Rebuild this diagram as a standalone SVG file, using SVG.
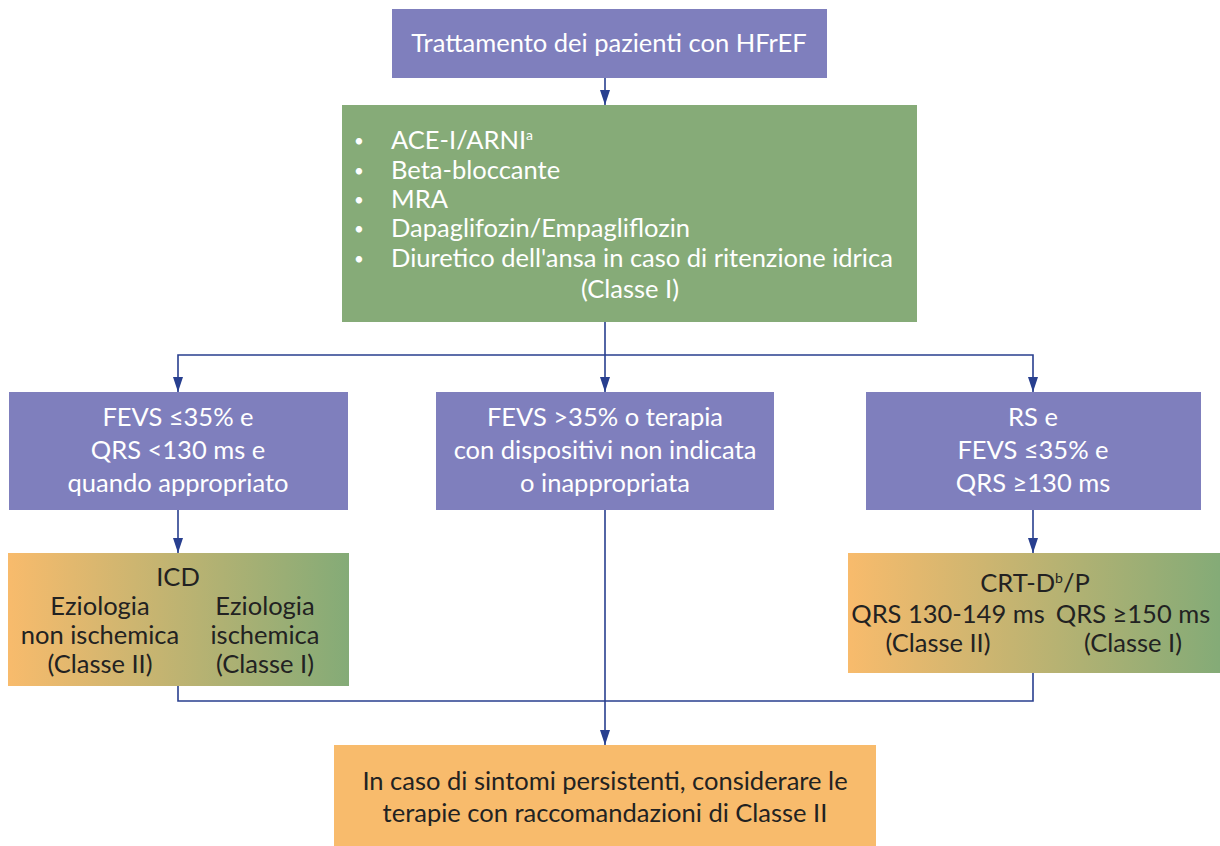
<svg xmlns="http://www.w3.org/2000/svg" width="1220" height="846" viewBox="0 0 1220 846">
<defs>
<marker id="arr" markerWidth="15" markerHeight="10" refX="15" refY="5" orient="auto-start-reverse" markerUnits="userSpaceOnUse" viewBox="0 0 15 10">
<path d="M0,0 L15,5 L0,10 Z" fill="#283f8f"/>
</marker>
<linearGradient id="grad" x1="0" y1="0" x2="1" y2="0">
<stop offset="0" stop-color="#f8bb6c"/>
<stop offset="1" stop-color="#84ab77"/>
</linearGradient>
<style>
.p{fill:#7f7fbd}
.g{fill:#86ab78}
.o{fill:#f8bb6c}
.t{font-family:Lato,"Source Sans Pro","Noto Sans",sans-serif;font-size:25.5px}
.b{font-family:Lato,"Noto Sans",sans-serif;font-size:17px;fill:#ffffff}
.w{fill:#ffffff}
.d{fill:#222222}
.m{text-anchor:middle}
.ln{fill:none;stroke:#283f8f;stroke-width:1.6}
</style>
</defs>
<rect width="1220" height="846" fill="#ffffff"/>
<g id="connectors">
<path class="ln" d="M605,78 V105" marker-end="url(#arr)"/>
<path class="ln" d="M605,322 V392" marker-end="url(#arr)"/>
<path class="ln" d="M178,392 V355 H1033 V392" marker-end="url(#arr)" marker-start="url(#arr)"/>
<path class="ln" d="M178,510 V553" marker-end="url(#arr)"/>
<path class="ln" d="M1033,510 V553" marker-end="url(#arr)"/>
<path class="ln" d="M605,510 V745" marker-end="url(#arr)"/>
<path class="ln" d="M178,686 V701 H1033 V673"/>
</g>
<g id="n_top">
<rect class="p" x="392" y="9" width="435" height="69"/>
<text class="t w m" x="609" y="52">Trattamento dei pazienti con HFrEF</text>
</g>
<g id="n_green">
<rect class="g" x="342" y="105" width="575" height="217"/>
<g class="b">
<text x="354" y="147">•</text>
<text x="354" y="177">•</text>
<text x="354" y="206">•</text>
<text x="354" y="235">•</text>
<text x="354" y="265">•</text>
</g>
<g class="t w">
<text x="391" y="149">ACE-I/ARNI<tspan font-size="14" dy="-9">a</tspan></text>
<text x="391" y="179">Beta-bloccante</text>
<text x="391" y="208">MRA</text>
<text x="391" y="237">Dapaglifozin/Empagliflozin</text>
<text x="391" y="267">Diuretico dell'ansa in caso di ritenzione idrica</text>
<text class="m" x="630" y="298">(Classe I)</text>
</g>
</g>
<g id="n_left">
<rect class="p" x="9" y="392" width="339" height="118"/>
<g class="t w m">
<text x="178" y="426">FEVS ≤35% e</text>
<text x="178" y="459">QRS &lt;130 ms e</text>
<text x="178" y="492">quando appropriato</text>
</g>
</g>
<g id="n_mid">
<rect class="p" x="436" y="392" width="338" height="118"/>
<g class="t w m">
<text x="605" y="426">FEVS &gt;35% o terapia</text>
<text x="605" y="459">con dispositivi non indicata</text>
<text x="605" y="492">o inappropriata</text>
</g>
</g>
<g id="n_right">
<rect class="p" x="866" y="392" width="335" height="118"/>
<g class="t w m">
<text x="1033" y="426">RS e</text>
<text x="1033" y="459">FEVS ≤35% e</text>
<text x="1033" y="492">QRS ≥130 ms</text>
</g>
</g>
<g id="n_icd">
<rect x="8" y="553" width="341" height="133" fill="url(#grad)"/>
<g class="t d m">
<text x="178" y="586">ICD</text>
<text x="100" y="615">Eziologia</text>
<text x="100" y="644">non ischemica</text>
<text x="100" y="673">(Classe II)</text>
<text x="265" y="615">Eziologia</text>
<text x="265" y="644">ischemica</text>
<text x="265" y="673">(Classe I)</text>
</g>
</g>
<g id="n_crt">
<rect x="848" y="553" width="372" height="120" fill="url(#grad)"/>
<g class="t d m">
<text x="1035" y="592">CRT-D<tspan font-size="14" dy="-9">b</tspan><tspan dy="9">/P</tspan></text>
<text x="948" y="623">QRS 130-149 ms</text>
<text x="938" y="652">(Classe II)</text>
<text x="1133" y="623">QRS ≥150 ms</text>
<text x="1133" y="652">(Classe I)</text>
</g>
</g>
<g id="n_bottom">
<rect class="o" x="334" y="745" width="542" height="101"/>
<g class="t d m">
<text x="605" y="790">In caso di sintomi persistenti, considerare le</text>
<text x="605" y="822">terapie con raccomandazioni di Classe II</text>
</g>
</g>
</svg>
